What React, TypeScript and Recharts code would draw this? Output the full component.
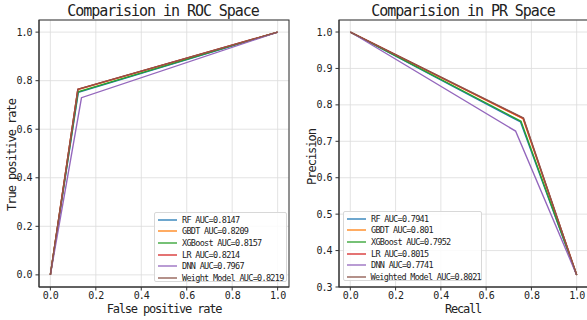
import * as R from 'recharts'
import { LineChart, Line, XAxis, YAxis, CartesianGrid } from 'recharts'

const COLORS = ['#1f77b4', '#ff7f0e', '#2ca02c', '#d62728', '#9467bd', '#8c564b']

const rocNames = ['RF', 'GBDT', 'XGBoost', 'LR', 'DNN', 'Weight Model']
const prNames = ['RF', 'GBDT', 'XGBoost', 'LR', 'DNN', 'Weighted Model']
const rocAuc = ['0.8147', '0.8209', '0.8157', '0.8214', '0.7967', '0.8219']
const prAuc = ['0.7941', '0.801', '0.7952', '0.8015', '0.7741', '0.8021']

// single operating point per model
const kneeFpr = [0.123, 0.121, 0.122, 0.121, 0.137, 0.121]
const kneeTpr = [0.752, 0.763, 0.754, 0.764, 0.730, 0.765]
const kneePrecision = [0.753, 0.762, 0.755, 0.763, 0.728, 0.764]
const prEnd = 0.333

const xTicks = [0, 0.2, 0.4, 0.6, 0.8, 1.0]
const rocYTicks = [0, 0.2, 0.4, 0.6, 0.8, 1.0]
const prYTicks = [0.3, 0.4, 0.5, 0.6, 0.7, 0.8, 0.9, 1.0]

const rocData = rocNames.map((_, i) => [
  { x: 0, y: 0 },
  { x: kneeFpr[i], y: kneeTpr[i] },
  { x: 1, y: 1 },
])
const prData = prNames.map((_, i) => [
  { x: 0, y: 1 },
  { x: kneeTpr[i], y: kneePrecision[i] },
  { x: 1, y: prEnd },
])

const FONT = '"DejaVu Sans Mono", monospace'
const tickStyle = { fontSize: 10, fill: '#222', fontFamily: FONT, letterSpacing: -1 }
const fmt = (v: number) => v.toFixed(1)
const xDomain = [-0.05, 1.05]

const usePlotArea: any = (R as any).usePlotArea || (R as any).useOffset || (() => null)

// box round the plot area, as matplotlib draws it
function Frame() {
  const a = usePlotArea()
  if (!a) return null
  const x = a.x ?? a.left
  const y = a.y ?? a.top
  return <rect x={x} y={y} width={a.width} height={a.height} fill="none" stroke="#333" strokeWidth={1} />
}

function Panel({ data, yDomain, yTicks, names, auc, left, width, marginLeft, marginRight, legendPos }: any) {
  return (
    <div style={{ position: 'absolute', left, top: 0 }}>
      <LineChart width={width} height={320} margin={{ top: 20, right: marginRight, bottom: 8, left: marginLeft }}>
        <CartesianGrid stroke="#dcdcdc" strokeWidth={0.8} />
        <XAxis dataKey="x" type="number" domain={xDomain} ticks={xTicks} tickFormatter={fmt}
          allowDataOverflow height={25} tickSize={3.5} tickMargin={1} tick={tickStyle}
          axisLine={{ stroke: '#333' }} tickLine={{ stroke: '#333' }} />
        <YAxis type="number" domain={yDomain} ticks={yTicks} tickFormatter={fmt} allowDataOverflow
          width={30} tickSize={3.5} tickMargin={4} tick={tickStyle}
          axisLine={{ stroke: '#333' }} tickLine={{ stroke: '#333' }} />
        {data.map((d: any, i: number) => (
          <Line key={names[i]} data={d} dataKey="y" type="linear" stroke={COLORS[i]} strokeWidth={1.4}
            dot={false} isAnimationActive={false} />
        ))}
        <Frame />
      </LineChart>
      <div style={{
        position: 'absolute', left: legendPos.left, top: legendPos.top, width: legendPos.width, height: 70,
        background: 'rgba(255,255,255,0.85)', border: '1px solid #d8d8d8', borderRadius: 2, boxSizing: 'border-box',
        padding: '1px 0 0 3px',
      }}>
        {names.map((n: string, i: number) => (
          <div key={n} style={{ display: 'flex', alignItems: 'center', height: 11.6 }}>
            <svg width={19} height={4} style={{ marginRight: 5, display: 'block' }}>
              <line x1={0} y1={2} x2={19} y2={2} stroke={COLORS[i]} strokeWidth={1.3} />
            </svg>
            <span style={{ fontFamily: FONT, fontSize: 8.5, letterSpacing: -0.7, color: '#222', whiteSpace: 'nowrap' }}>
              {n} AUC={auc[i]}
            </span>
          </div>
        ))}
      </div>
    </div>
  )
}

const textBase: any = { position: 'absolute', fontFamily: FONT, color: '#222', whiteSpace: 'nowrap', transform: 'translate(-50%, -50%)' }

export default function App() {
  return (
    <div style={{ position: 'absolute', left: 0, top: 0, width: 587, height: 320, overflow: 'hidden', background: '#fff' }}>
      <Panel data={rocData} yDomain={[-0.05, 1.05]} yTicks={rocYTicks} names={rocNames} auc={rocAuc}
        left={0} width={290} marginLeft={9} marginRight={1}
        legendPos={{ left: 154, top: 212, width: 133 }} />
      <Panel data={prData} yDomain={[0.3, 1.033]} yTicks={prYTicks} names={prNames} auc={prAuc}
        left={290} width={300} marginLeft={19} marginRight={2}
        legendPos={{ left: 53, top: 211, width: 139 }} />

      <div style={{ ...textBase, left: 163, top: 11, fontSize: 15, letterSpacing: -1.05 }}>Comparision in ROC Space</div>
      <div style={{ ...textBase, left: 463, top: 11, fontSize: 15, letterSpacing: -1.05 }}>Comparision in PR Space</div>
      <div style={{ ...textBase, left: 164, top: 309, fontSize: 12, letterSpacing: -1.2 }}>False positive rate</div>
      <div style={{ ...textBase, left: 463, top: 309, fontSize: 12, letterSpacing: -1.2 }}>Recall</div>
      <div style={{ ...textBase, left: 12, top: 155, fontSize: 12, letterSpacing: -1, transform: 'translate(-50%, -50%) rotate(-90deg)' }}>True positive rate</div>
      <div style={{ ...textBase, left: 312, top: 157, fontSize: 12, letterSpacing: -1, transform: 'translate(-50%, -50%) rotate(-90deg)' }}>Precision</div>
    </div>
  )
}
